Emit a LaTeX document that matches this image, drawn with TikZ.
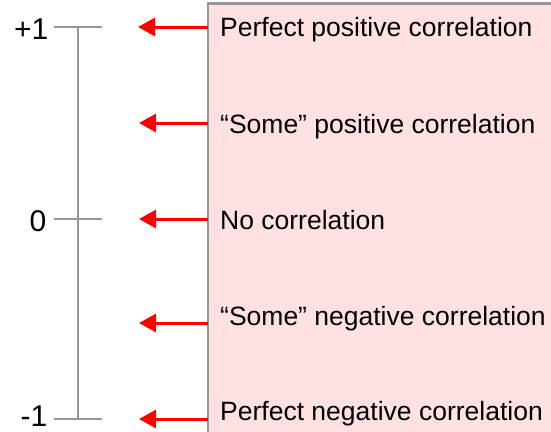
\documentclass[tikz,border=0pt]{standalone}
\usepackage{fontspec}
\setmainfont{Liberation Sans}
\usetikzlibrary{arrows.meta}
\definecolor{axisgray}{RGB}{150,150,150}
\definecolor{boxpink}{RGB}{255,225,227}
\begin{document}
\begin{tikzpicture}[x=1pt,y=1pt]
    \tikzstyle{axis}=[axisgray,line width=2.8pt]
    \tikzstyle{pointer}=[red,line width=3pt,-{Triangle[length=17pt,width=18pt]}]
    \tikzstyle{lbl}=[anchor=base west,inner sep=0pt,font=\fontsize{26.5}{30}\selectfont]
    \tikzstyle{num}=[anchor=base east,inner sep=0pt,font=\fontsize{30}{34}\selectfont]
    \clip (0,0) rectangle (551,-431);
    % Box
    \draw[axis,fill=boxpink] (208,-3.5) rectangle (580,-460);
    % Scale
    \coordinate (t1) at (54,-27); \coordinate (t2) at (102,-27);
    \coordinate (m1) at (54,-219); \coordinate (m2) at (102,-219);
    \coordinate (b1) at (54,-419); \coordinate (b2) at (102,-419);
    \coordinate (ttop) at (78,-27); \coordinate (tbot) at (78,-419);
    \draw[axis] (t1) -- (t2); \draw[axis] (m1) -- (m2); \draw[axis] (b1) -- (b2);
    \draw[axis] (ttop) -- (tbot);
    \node[num] (plusone) at (48.5,-39) {+1};
    \node[num] (zero) at (46.5,-231) {0};
    \node[num] (minusone) at (47.5,-426) {-1};
    % Labels
    \node[lbl] (pp) at (220,-36) {Perfect positive correlation};
    \node[lbl] (sp) at (220,-133) {“Some” positive correlation};
    \node[lbl] (nc) at (220,-229) {No correlation};
    \node[lbl] (sn) at (220,-325) {“Some” negative correlation};
    \node[lbl] (pn) at (220,-420) {Perfect negative correlation};
    % Pointers
    \coordinate (a1) at (208,-27); \coordinate (e1) at (138,-27);
    \coordinate (a2) at (208,-123); \coordinate (e2) at (139,-123);
    \coordinate (a3) at (208,-219); \coordinate (e3) at (139,-219);
    \coordinate (a4) at (208,-323); \coordinate (e4) at (139,-323);
    \coordinate (a5) at (208,-419); \coordinate (e5) at (139,-419);
    \draw[pointer] (a1) -- (e1); \draw[pointer] (a2) -- (e2);
    \draw[pointer] (a3) -- (e3); \draw[pointer] (a4) -- (e4);
    \draw[pointer] (a5) -- (e5);
\end{tikzpicture}
\end{document}
